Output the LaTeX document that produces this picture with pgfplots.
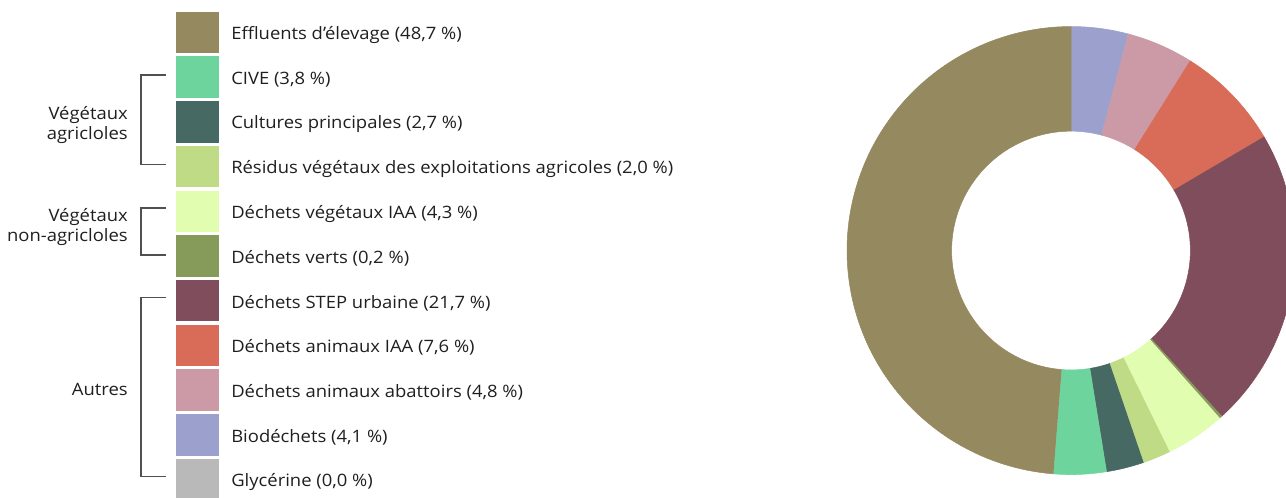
\documentclass[border=0pt]{standalone}
\usepackage{fontspec}
\setmainfont{Open Sans}[FakeStretch=1.08]
\usepackage{pgfplots}
\usepackage{pgfplotstable}
\pgfplotsset{compat=1.18}

\definecolor{cEff}{RGB}{149,137,95}
\definecolor{cCIVE}{RGB}{110,212,158}
\definecolor{cCult}{RGB}{70,106,99}
\definecolor{cRes}{RGB}{192,219,133}
\definecolor{cVegIAA}{RGB}{224,253,176}
\definecolor{cVerts}{RGB}{134,155,89}
\definecolor{cSTEP}{RGB}{127,77,91}
\definecolor{cAnIAA}{RGB}{216,108,88}
\definecolor{cAbat}{RGB}{204,153,166}
\definecolor{cBio}{RGB}{155,160,204}
\definecolor{cGly}{RGB}{185,185,185}
\definecolor{bracket}{RGB}{80,80,80}

% Shares of methanised inputs, clockwise from 12 o'clock
\pgfplotstableread{
share colour
4.1  cBio
4.8  cAbat
7.6  cAnIAA
21.7 cSTEP
0.0  cGly
0.2  cVerts
4.3  cVegIAA
2.0  cRes
2.7  cCult
3.8  cCIVE
48.7 cEff
}\shares

\newcommand\rin{0.533}

\begin{document}
\begin{tikzpicture}
\begin{scope}[x=0.75pt,y=-0.75pt,
  lbl/.style={anchor=west, inner sep=0pt, font=\fontsize{12.8}{15}\selectfont, text=black!88},
  grp/.style={anchor=east, inner sep=0pt, align=right, font=\fontsize{12.8}{14.5}\selectfont, text=black!88}]

% legend swatches and labels
\foreach \col/\txt [count=\k from 0] in {
  cEff/{Effluents d’élevage (48,7 \%)},
  cCIVE/{CIVE (3,8 \%)},
  cCult/{Cultures principales (2,7 \%)},
  cRes/{Résidus végétaux des exploitations agricoles (2,0 \%)},
  cVegIAA/{Déchets végétaux IAA (4,3 \%)},
  cVerts/{Déchets verts (0,2 \%)},
  cSTEP/{Déchets STEP urbaine (21,7 \%)},
  cAnIAA/{Déchets animaux IAA (7,6 \%)},
  cAbat/{Déchets animaux abattoirs (4,8 \%)},
  cBio/{Biodéchets (4,1 \%)},
  cGly/{Glycérine (0,0 \%)}}{
  \fill[\col] (176,11.7+44.7*\k) rectangle (219,53.2+44.7*\k);
  \node[lbl] at (231,34.8+44.7*\k) {\txt};
}

% group brackets
\draw[bracket, line width=0.8pt] (166,75) -| (141,164.5) -- (166,164.5);
\node[grp] at (128,125) {Végétaux\\agricloles};
\draw[bracket, line width=0.8pt] (166,208) -| (141,255) -- (166,255);
\node[grp] at (128,227) {Végétaux\\non-agricloles};
\draw[bracket, line width=0.8pt] (166,297.5) -| (141,476.5) -- (166,476.5);
\node[grp] at (128,389) {Autres};
\end{scope}

% donut chart
\begin{axis}[at={(803.25pt,-187.9pt)}, anchor=center, width=336pt, height=336pt,
  scale only axis, hide axis, clip=false,
  xmin=-1, xmax=1, ymin=-1, ymax=1]
\pgfplotstablegetrowsof{\shares}
\pgfmathtruncatemacro\lastrow{\pgfplotsretval-1}
\def\total{0}
\pgfplotsforeachungrouped \i in {0,...,\lastrow}{%
  \pgfplotstablegetelem{\i}{share}\of\shares
  \pgfmathsetmacro\total{\total+\pgfplotsretval}}
\def\cum{0}
\pgfplotsforeachungrouped \i in {0,...,\lastrow}{%
  \pgfplotstablegetelem{\i}{share}\of\shares
  \let\val\pgfplotsretval
  \pgfplotstablegetelem{\i}{colour}\of\shares
  \let\slicecol\pgfplotsretval
  \pgfmathsetmacro\angA{90-\cum/\total*360}
  \pgfmathsetmacro\angB{90-(\cum+\val)/\total*360}
  \pgfmathsetmacro\cum{\cum+\val}
  \ifdim\val pt>0pt
    % outer arc (t in 0..1), radial edge (1..2), inner arc back (2..3)
    \edef\slice{\noexpand\addplot[fill=\slicecol, draw=\slicecol, line width=0.4pt,
      domain=0:3, samples=301]
      ({ifthenelse(x<=1,1,ifthenelse(x<=2,1-(1-\rin)*(x-1),\rin))*cos(ifthenelse(x<=1,\angA+(\angB-\angA)*x,ifthenelse(x<=2,\angB,\angB+(\angA-\angB)*(x-2))))},
       {ifthenelse(x<=1,1,ifthenelse(x<=2,1-(1-\rin)*(x-1),\rin))*sin(ifthenelse(x<=1,\angA+(\angB-\angA)*x,ifthenelse(x<=2,\angB,\angB+(\angA-\angB)*(x-2))))});}
    \slice
  \fi
}
\end{axis}

% page is 1286 x 497 px at 0.75 pt per px
\pgfresetboundingbox
\path[use as bounding box] (0pt,0pt) rectangle (964.5pt,-372.75pt);
\end{tikzpicture}
\end{document}
